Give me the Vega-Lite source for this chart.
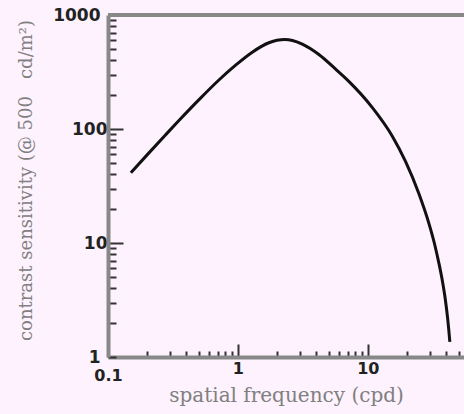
{
  "$schema": "https://vega.github.io/schema/vega-lite/v6.json",
  "width": 356,
  "height": 342,
  "autosize": {"type": "none"},
  "padding": {"left": 108, "top": 15, "right": 0, "bottom": 57},
  "background": "#fdf2fd",
  "config": {"view": {"stroke": null}},
  "data": {
    "values": [
      {"freq": 0.15, "sens": 41.4},
      {"freq": 0.2, "sens": 59.3},
      {"freq": 0.278, "sens": 89.1},
      {"freq": 0.35, "sens": 118},
      {"freq": 0.5, "sens": 180},
      {"freq": 0.714, "sens": 269},
      {"freq": 0.96, "sens": 363},
      {"freq": 1.29, "sens": 472},
      {"freq": 1.73, "sens": 571},
      {"freq": 2.0, "sens": 601},
      {"freq": 2.3, "sens": 610},
      {"freq": 2.63, "sens": 598},
      {"freq": 3.13, "sens": 555},
      {"freq": 4.2, "sens": 450},
      {"freq": 5.65, "sens": 335},
      {"freq": 7.14, "sens": 262},
      {"freq": 10.8, "sens": 155},
      {"freq": 15.4, "sens": 87},
      {"freq": 19.5, "sens": 52},
      {"freq": 24.7, "sens": 27.2},
      {"freq": 29.4, "sens": 15.1},
      {"freq": 32.5, "sens": 10},
      {"freq": 35.2, "sens": 6.7},
      {"freq": 37.3, "sens": 4.8},
      {"freq": 39.6, "sens": 3.13},
      {"freq": 41.2, "sens": 2.16},
      {"freq": 42.8, "sens": 1.36}
    ]
  },
  "layer": [
    {
      "mark": {"type": "line", "interpolate": "monotone", "color": "#111111", "strokeWidth": 3},
      "encoding": {
        "x": {
          "field": "freq",
          "type": "quantitative",
          "scale": {"type": "log", "domain": [0.1, 55], "nice": false},
          "axis": {
            "title": "spatial frequency (cpd)",
            "values": [0.1, 0.2, 0.3, 0.4, 0.5, 0.6, 0.7, 0.8, 0.9, 1, 2, 3, 4, 5, 6, 7, 8, 9, 10, 20, 30, 40, 50],
            "labelExpr": "datum.value == 0.1 ? '0.1' : datum.value == 1 ? '1' : datum.value == 10 ? '10' : ''",
            "grid": false,
            "domainColor": "#888888",
            "domainWidth": 4,
            "tickColor": "#333333",
            "tickWidth": 2,
            "tickSize": {"condition": {"test": "datum.value == 1 || datum.value == 10", "value": -13}, "value": -6},
            "labelFont": "DejaVu Sans",
            "labelFontWeight": "bold",
            "labelFontSize": 16,
            "labelColor": "#222222",
            "labelPadding": 16,
            "labelFlush": false,
            "labelOverlap": false,
            "titleFont": "DejaVu Serif",
            "titleFontSize": 20,
            "titleFontWeight": "normal",
            "titleColor": "#808080",
            "titlePadding": 2
          }
        },
        "y": {
          "field": "sens",
          "type": "quantitative",
          "scale": {"type": "log", "domain": [1, 1000], "nice": false},
          "axis": {
            "title": "contrast sensitivity (@ 500\u00a0\u00a0\u00a0cd/m²)",
            "values": [1, 2, 3, 4, 5, 6, 7, 8, 9, 10, 20, 30, 40, 50, 60, 70, 80, 90, 100, 200, 300, 400, 500, 600, 700, 800, 900, 1000],
            "labelExpr": "datum.value == 1 ? '1' : datum.value == 10 ? '10' : datum.value == 100 ? '100' : datum.value == 1000 ? '1000' : ''",
            "grid": false,
            "domainColor": "#888888",
            "domainWidth": 4,
            "tickColor": "#333333",
            "tickWidth": 2,
            "tickSize": {"condition": {"test": "datum.value == 10 || datum.value == 100", "value": -15}, "value": -8},
            "labelFont": "DejaVu Sans",
            "labelFontWeight": "bold",
            "labelFontSize": 17,
            "labelColor": "#222222",
            "labelPadding": 16,
            "labelFlush": false,
            "labelOverlap": false,
            "titleFont": "DejaVu Serif",
            "titleFontSize": 18,
            "titleFontWeight": "normal",
            "titleColor": "#808080",
            "titlePadding": 17,
            "titleY": 165
          }
        }
      }
    },
    {
      "data": {"values": [{}]},
      "mark": {"type": "rule", "color": "#888888", "strokeWidth": 4},
      "encoding": {"y": {"datum": 1000}}
    }
  ]
}
